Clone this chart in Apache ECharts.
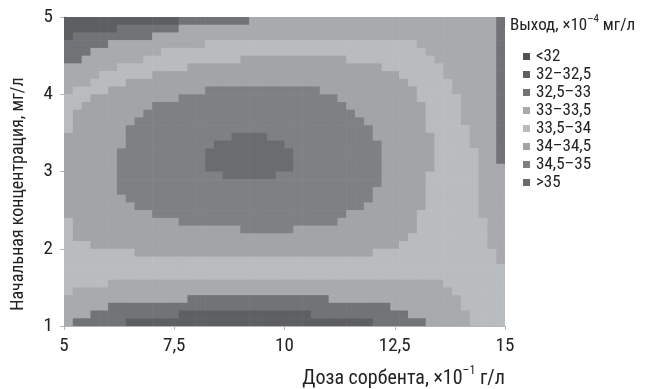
<!DOCTYPE html>
<html>
<head>
<meta charset="utf-8">
<script src="https://cdn.jsdelivr.net/npm/echarts@6/dist/echarts.min.js"></script>
<style>
html,body{margin:0;padding:0;background:#fff;}
#chart{width:646px;height:389px;}
</style>
</head>
<body>
<div id="chart"></div>
<script>
// Cell centres of the sampled grid (x: dose, y: initial concentration)
var gridX = [5.1,5.3,5.5,5.7,5.9,6.1,6.3,6.5,6.7,6.9,7.1,7.3,7.5,7.7,7.9,8.1,8.3,8.5,8.7,8.9,
             9.1,9.3,9.5,9.7,9.9,10.1,10.3,10.5,10.7,10.9,11.1,11.3,11.5,11.7,11.9,12.1,12.3,12.5,12.7,12.9,
             13.1,13.3,13.5,13.7,13.9,14.1,14.3,14.5,14.7,14.9];
var gridY = [4.95,4.85,4.75,4.65,4.55,4.45,4.35,4.25,4.15,4.05,3.95,3.85,3.75,3.65,3.55,3.45,3.35,3.25,3.15,3.05,
             2.95,2.85,2.75,2.65,2.55,2.45,2.35,2.25,2.15,2.05,1.95,1.85,1.75,1.65,1.55,1.45,1.35,1.25,1.15,1.05];
// Contour class (0..7), one row per gridY value, one digit per gridX value
var levelRows = [
  "1111111111 1112222222 2333333333 3333333333 3333333332",
  "1111112222 2223333333 3333333333 3333333333 3333333332",
  "1222222222 3333333333 3333333333 3333333333 3333333332",
  "2222233333 3333334444 4444444444 4444444444 3333333332",
  "2223333333 3444444444 4444444444 4444444444 4333333332",
  "2233333334 4444444444 5555555555 5544444444 4433333332",
  "3333334444 4444555555 5555555555 5555554444 4443333332",
  "3333444444 5555555555 5555555555 5555555544 4443333332",
  "3334444555 5555555555 5555555555 5555555554 4444333332",
  "3444455555 5555556666 6666666665 5555555555 4444333332",
  "4445555555 5556666666 6666666666 6555555555 4444433332",
  "4455555555 6666666666 6666666666 6655555555 5444433332",
  "4555555556 6666666666 6666666666 6665555555 5444433332",
  "4555555566 6666666666 6666666666 6666555555 5444433332",
  "4555555666 6666666666 6666666666 6666655555 5444443332",
  "5555555666 6666666667 7776666666 6666655555 5544443332",
  "5555555666 6666666777 7777766666 6666665555 5544443332",
  "5555556666 6666667777 7777776666 6666665555 5544444332",
  "5555556666 6666667777 7777776666 6666665555 5544444332",
  "5555556666 6666667777 7777776666 6666665555 5544444333",
  "5555556666 6666666677 7777666666 6666665555 5444444333",
  "5555556666 6666666666 6666666666 6666665555 5444444333",
  "5555556666 6666666666 6666666666 6666655555 5444444333",
  "5555555666 6666666666 6666666666 6666655555 5444444333",
  "5555555566 6666666666 6666666666 6666555555 5444444333",
  "5555555555 6666666666 6666666666 6655555555 4444444333",
  "4555555555 5556666666 6666666666 6555555555 4444444433",
  "4555555555 5555555555 6666665555 5555555555 4444444433",
  "4555555555 5555555555 5555555555 5555555554 4444444433",
  "4445555555 5555555555 5555555555 5555555544 4444444433",
  "4444444455 5555555555 5555555555 5555544444 4444444443",
  "4444444444 4444444444 4444444444 4444444444 4444444443",
  "4444444444 4444444444 4444444444 4444444444 4444444444",
  "4444444444 4444444444 4444444444 4444444444 4444444444",
  "4444433333 3333333333 3333333333 3333333333 3334444444",
  "4333333333 3333333333 3333333333 3333333333 3333444444",
  "3333333333 3333222222 2222222222 3333333333 3333344444",
  "3333322222 2222222222 2222222222 2222222333 3333344444",
  "3332222222 2221111111 1111111122 2222222223 3333334444",
  "3222222111 1111111111 1111111111 1111122222 2333334444"
];
var legendLabels = ['<32','32–32,5','32,5–33','33–33,5','33,5–34','34–34,5','34,5–35','>35'];
var levelColors = ['#505155','#5e5f63','#717377','#a8aaad','#b9bcbf','#a2a4a7','#7e8084','#6a6c70'];
var xTicks = [5, 7.5, 10, 12.5, 15];
var yTicks = [1, 2, 3, 4, 5];

var FONT = "'Roboto Condensed','Liberation Sans Narrow','DejaVu Sans Condensed','Arial Narrow',Roboto,sans-serif";
var CELL_W = 0.2, CELL_H = 0.1;

var cells = [];
levelRows.forEach(function (row, r) {
  var s = row.replace(/ /g, '');
  for (var c = 0; c < s.length; c++) {
    cells.push([gridX[c], gridY[r], +s.charAt(c)]);
  }
});

var chart = echarts.init(document.getElementById('chart'), null, {renderer: 'canvas'});
chart.setOption({
  animation: false,
  backgroundColor: '#ffffff',
  grid: {left: 64, right: 141, top: 17, bottom: 63},
  xAxis: {
    type: 'value', min: xTicks[0], max: xTicks[xTicks.length - 1], interval: 2.5,
    axisLine: {show: true, lineStyle: {color: '#b5b5b5', width: 1}},
    axisTick: {show: true, length: 4, lineStyle: {color: '#b5b5b5'}},
    splitLine: {show: false},
    axisLabel: {margin: 11, fontSize: 19, color: '#222', fontFamily: FONT,
      formatter: function (v) { return String(v).replace('.', ','); }}
  },
  yAxis: {
    type: 'value', min: yTicks[0], max: yTicks[yTicks.length - 1], interval: 1,
    axisLine: {show: true, lineStyle: {color: '#b5b5b5', width: 1}},
    axisTick: {show: true, length: 4, lineStyle: {color: '#b5b5b5'}},
    splitLine: {show: false},
    axisLabel: {margin: 11, fontSize: 19, color: '#222', fontFamily: FONT}
  },
  visualMap: {
    type: 'piecewise', dimension: 2, seriesIndex: 0,
    orient: 'vertical', inverse: true, align: 'left',
    left: 508, top: 33,
    itemWidth: 7, itemHeight: 7, itemGap: 1, itemSymbol: 'rect', textGap: 6,
    selectedMode: false, hoverLink: false,
    textStyle: {fontSize: 17, color: '#222', fontFamily: FONT},
    pieces: legendLabels.map(function (l, i) { return {value: i, label: l, color: levelColors[i]}; })
  },
  graphic: [
    {type: 'text', left: 510, top: 14, silent: true,
      style: {text: '{a|Выход, ×10}{b|–4}{a| мг/л}', fill: '#222',
        rich: {a: {fontSize: 17, fontFamily: FONT, fill: '#222', lineHeight: 20, verticalAlign: 'bottom'},
               b: {fontSize: 11, fontFamily: FONT, fill: '#222', lineHeight: 20, verticalAlign: 'top'}}}},
    {type: 'text', right: 141, top: 365, silent: true,
      style: {text: '{a|Доза сорбента, ×10}{b|–1}{a| г/л}', fill: '#222',
        rich: {a: {fontSize: 20, fontFamily: FONT, fill: '#222', lineHeight: 24, verticalAlign: 'bottom'},
               b: {fontSize: 12, fontFamily: FONT, fill: '#222', lineHeight: 24, verticalAlign: 'top'}}}},
    {type: 'text', x: 18, y: 194, rotation: Math.PI / 2, silent: true,
      style: {text: 'Начальная концентрация, мг/л', fontSize: 18, fontFamily: FONT, fill: '#222',
        textAlign: 'center', textVerticalAlign: 'middle'}}
  ],
  series: [{
    type: 'custom',
    clip: true,
    data: cells,
    encode: {x: 0, y: 1},
    renderItem: function (params, api) {
      var x = api.value(0), y = api.value(1);
      var p0 = api.coord([x - CELL_W / 2, y + CELL_H / 2]);
      var p1 = api.coord([x + CELL_W / 2, y - CELL_H / 2]);
      return {
        type: 'rect',
        shape: {x: p0[0], y: p0[1], width: p1[0] - p0[0] + 0.6, height: p1[1] - p0[1] + 0.6},
        style: {fill: api.visual('color')}
      };
    }
  }]
});
</script>
</body>
</html>
